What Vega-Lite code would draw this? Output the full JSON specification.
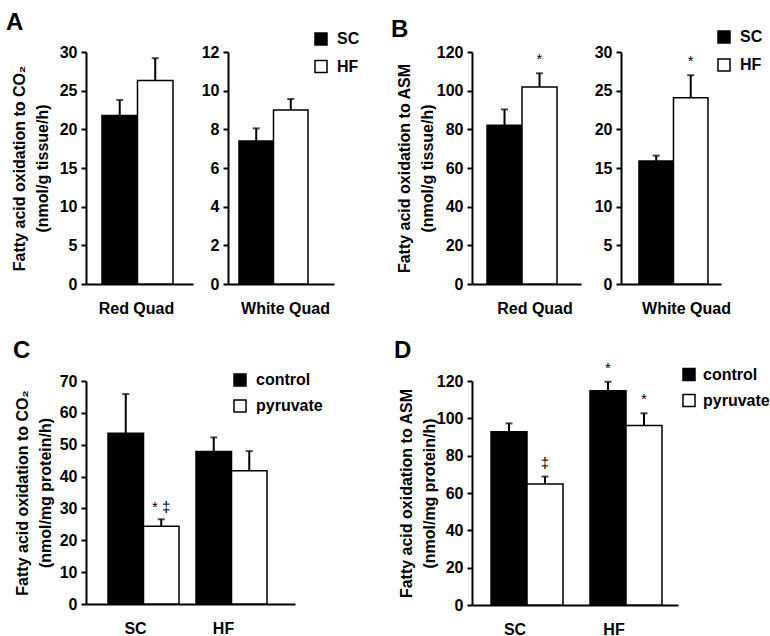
{
  "$schema": "https://vega.github.io/schema/vega-lite/v6.json",
  "padding": {"left": 5, "top": 11, "right": 0, "bottom": 0},
  "background": "white",
  "datasets": {
    "Ared": [
      {"group": "Red Quad", "series": "SC", "value": 21.8, "upper": 23.8, "sig": ""},
      {"group": "Red Quad", "series": "HF", "value": 26.3, "upper": 29.2, "sig": ""}
    ],
    "Awhite": [
      {"group": "White Quad", "series": "SC", "value": 7.4, "upper": 8.05, "sig": ""},
      {"group": "White Quad", "series": "HF", "value": 9.0, "upper": 9.57, "sig": ""}
    ],
    "Bred": [
      {"group": "Red Quad", "series": "SC", "value": 82.1, "upper": 90.3, "sig": ""},
      {"group": "Red Quad", "series": "HF", "value": 101.9, "upper": 109.0, "sig": "*"}
    ],
    "Bwhite": [
      {"group": "White Quad", "series": "SC", "value": 15.9, "upper": 16.6, "sig": ""},
      {"group": "White Quad", "series": "HF", "value": 24.1, "upper": 27.0, "sig": "*"}
    ],
    "C": [
      {"group": "SC", "series": "control", "value": 53.6, "upper": 65.9, "sig": ""},
      {"group": "SC", "series": "pyruvate", "value": 24.4, "upper": 26.6, "sig": "* ‡"},
      {"group": "HF", "series": "control", "value": 47.9, "upper": 52.3, "sig": ""},
      {"group": "HF", "series": "pyruvate", "value": 41.8, "upper": 48.0, "sig": ""}
    ],
    "D": [
      {"group": "SC", "series": "control", "value": 92.8, "upper": 97.3, "sig": ""},
      {"group": "SC", "series": "pyruvate", "value": 64.8, "upper": 68.8, "sig": "‡"},
      {"group": "HF", "series": "control", "value": 114.8, "upper": 119.6, "sig": "*"},
      {"group": "HF", "series": "pyruvate", "value": 96.1, "upper": 102.7, "sig": "*"}
    ]
  },
  "config": {
    "font": "Liberation Sans",
    "view": {"stroke": null},
    "axis": {"domainColor": "black", "domainWidth": 2, "tickColor": "black", "tickWidth": 2, "tickSize": 5, "labelFont": "Liberation Sans", "labelFontSize": 16, "labelFontWeight": "bold", "labelColor": "black", "labelPadding": 4, "titleFont": "Liberation Sans", "titleFontSize": 16, "titleFontWeight": "bold", "titleColor": "black", "grid": false, "labelOverlap": false},
    "axisX": {"ticks": false, "labelAngle": 0, "labelPadding": 16},
    "axisY": {"titlePadding": 6, "titleLineHeight": 23},
    "legend": {"orient": "none", "symbolType": "square", "symbolSize": 144, "symbolStrokeColor": "black", "symbolStrokeWidth": 1.5, "labelFont": "Liberation Sans", "labelFontSize": 16, "labelFontWeight": "bold", "labelColor": "black", "labelOffset": 8, "padding": 0, "rowPadding": 10},
    "title": {"font": "Liberation Sans", "fontSize": 24, "fontWeight": "bold", "color": "black", "anchor": "start", "frame": "bounds", "offset": 2}
  },
  "spacing": 22,
  "vconcat": [
    {
      "spacing": 30,
      "resolve": {"scale": {"x": "independent", "y": "independent", "xOffset": "independent", "color": "independent"}, "legend": {"color": "independent"}},
      "hconcat": [
        {
          "bounds": "flush",
          "spacing": 35,
          "resolve": {"scale": {"x": "independent", "y": "independent", "xOffset": "independent", "color": "independent"}, "legend": {"color": "independent"}},
          "hconcat": [
            {
              "data": {"name": "Ared"},
              "width": 107, "height": 232,
              "title": {"text": "A", "dx": -5, "offset": 2},
              "encoding": {
                "x": {"field": "group", "type": "nominal", "title": null, "scale": {"paddingInner": 0, "paddingOuter": 0.2535, "align": 0.444}, "axis": {"labelOffset": -1}},
                "xOffset": {"field": "series", "type": "nominal", "sort": ["SC", "HF"]},
                "y": {"field": "value", "type": "quantitative", "scale": {"domain": [0, 30]}, "axis": {"values": [0, 5, 10, 15, 20, 25, 30], "titleX": -59, "title": ["Fatty acid oxidation to CO₂", "(nmol/g tissue/h)"]}}
              },
              "layer": [
                {"mark": {"type": "bar", "stroke": "black", "strokeWidth": 1.5},
                 "encoding": {"color": {"field": "series", "type": "nominal", "scale": {"domain": ["SC", "HF"], "range": ["black", "white"]}, "legend": null}}},
                {"mark": {"type": "rule", "strokeWidth": 2, "color": "black"}, "encoding": {"y2": {"field": "upper"}}},
                {"mark": {"type": "tick", "thickness": 2, "size": 7, "color": "black"}, "encoding": {"y": {"field": "upper", "type": "quantitative", "axis": {"values": [0, 5, 10, 15, 20, 25, 30], "titleX": -59, "title": ["Fatty acid oxidation to CO₂", "(nmol/g tissue/h)"]}}}},
                {"mark": {"type": "text", "fontSize": 15, "baseline": "middle", "dy": -14, "color": "black"}, "encoding": {"y": {"field": "upper", "type": "quantitative", "axis": {"values": [0, 5, 10, 15, 20, 25, 30], "titleX": -59, "title": ["Fatty acid oxidation to CO₂", "(nmol/g tissue/h)"]}}, "text": {"field": "sig"}}}
              ]
            },
            {
              "data": {"name": "Awhite"},
              "width": 106, "height": 232,
              "encoding": {
                "x": {"field": "group", "type": "nominal", "title": null, "scale": {"paddingInner": 0, "paddingOuter": 0.268, "align": 0.297}, "axis": {"labelOffset": 12}},
                "xOffset": {"field": "series", "type": "nominal", "sort": ["SC", "HF"]},
                "y": {"field": "value", "type": "quantitative", "scale": {"domain": [0, 12]}, "axis": {"values": [0, 2, 4, 6, 8, 10, 12], "title": null}}
              },
              "layer": [
                {"mark": {"type": "bar", "stroke": "black", "strokeWidth": 1.5},
                 "encoding": {"color": {"field": "series", "type": "nominal", "scale": {"domain": ["SC", "HF"], "range": ["black", "white"]}, "legend": {"title": null, "orient": "none", "legendX": 85, "legendY": -21, "rowPadding": 9.5}}}},
                {"mark": {"type": "rule", "strokeWidth": 2, "color": "black"}, "encoding": {"y2": {"field": "upper"}}},
                {"mark": {"type": "tick", "thickness": 2, "size": 7, "color": "black"}, "encoding": {"y": {"field": "upper", "type": "quantitative", "axis": {"values": [0, 2, 4, 6, 8, 10, 12], "title": null}}}},
                {"mark": {"type": "text", "fontSize": 15, "baseline": "middle", "dy": -14, "color": "black"}, "encoding": {"y": {"field": "upper", "type": "quantitative", "axis": {"values": [0, 2, 4, 6, 8, 10, 12], "title": null}}, "text": {"field": "sig"}}}
              ]
            }
          ]
        },
        {
          "bounds": "flush",
          "spacing": 40,
          "resolve": {"scale": {"x": "independent", "y": "independent", "xOffset": "independent", "color": "independent"}, "legend": {"color": "independent"}},
          "hconcat": [
            {
              "data": {"name": "Bred"},
              "width": 109, "height": 232,
              "title": {"text": "B", "dx": -5, "offset": 2},
              "encoding": {
                "x": {"field": "group", "type": "nominal", "title": null, "scale": {"paddingInner": 0, "paddingOuter": 0.2786, "align": 0.385}, "axis": {"labelOffset": 13}},
                "xOffset": {"field": "series", "type": "nominal", "sort": ["SC", "HF"]},
                "y": {"field": "value", "type": "quantitative", "scale": {"domain": [0, 120]}, "axis": {"values": [0, 20, 40, 60, 80, 100, 120], "titleX": -60, "title": ["Fatty acid oxidation to  ASM", "(nmol/g tissue/h)"]}}
              },
              "layer": [
                {"mark": {"type": "bar", "stroke": "black", "strokeWidth": 1.5},
                 "encoding": {"color": {"field": "series", "type": "nominal", "scale": {"domain": ["SC", "HF"], "range": ["black", "white"]}, "legend": null}}},
                {"mark": {"type": "rule", "strokeWidth": 2, "color": "black"}, "encoding": {"y2": {"field": "upper"}}},
                {"mark": {"type": "tick", "thickness": 2, "size": 7, "color": "black"}, "encoding": {"y": {"field": "upper", "type": "quantitative", "axis": {"values": [0, 20, 40, 60, 80, 100, 120], "titleX": -60, "title": ["Fatty acid oxidation to  ASM", "(nmol/g tissue/h)"]}}}},
                {"mark": {"type": "text", "fontSize": 15, "baseline": "middle", "dy": -14, "color": "black"}, "encoding": {"y": {"field": "upper", "type": "quantitative", "axis": {"values": [0, 20, 40, 60, 80, 100, 120], "titleX": -60, "title": ["Fatty acid oxidation to  ASM", "(nmol/g tissue/h)"]}}, "text": {"field": "sig"}}}
              ]
            },
            {
              "data": {"name": "Bwhite"},
              "width": 100, "height": 232,
              "encoding": {
                "x": {"field": "group", "type": "nominal", "title": null, "scale": {"paddingInner": 0, "paddingOuter": 0.2246, "align": 0.58}, "axis": {"labelOffset": 13}},
                "xOffset": {"field": "series", "type": "nominal", "sort": ["SC", "HF"]},
                "y": {"field": "value", "type": "quantitative", "scale": {"domain": [0, 30]}, "axis": {"values": [0, 5, 10, 15, 20, 25, 30], "title": null}}
              },
              "layer": [
                {"mark": {"type": "bar", "stroke": "black", "strokeWidth": 1.5},
                 "encoding": {"color": {"field": "series", "type": "nominal", "scale": {"domain": ["SC", "HF"], "range": ["black", "white"]}, "legend": {"title": null, "orient": "none", "legendX": 95, "legendY": -23, "rowPadding": 10}}}},
                {"mark": {"type": "rule", "strokeWidth": 2, "color": "black"}, "encoding": {"y2": {"field": "upper"}}},
                {"mark": {"type": "tick", "thickness": 2, "size": 7, "color": "black"}, "encoding": {"y": {"field": "upper", "type": "quantitative", "axis": {"values": [0, 5, 10, 15, 20, 25, 30], "title": null}}}},
                {"mark": {"type": "text", "fontSize": 15, "baseline": "middle", "dy": -14, "color": "black"}, "encoding": {"y": {"field": "upper", "type": "quantitative", "axis": {"values": [0, 5, 10, 15, 20, 25, 30], "title": null}}, "text": {"field": "sig"}}}
              ]
            }
          ]
        }
      ]
    },
    {
      "bounds": "flush",
      "spacing": 177,
      "resolve": {"scale": {"x": "independent", "y": "independent", "xOffset": "independent", "color": "independent"}, "legend": {"color": "independent"}},
      "hconcat": [
        {
          "data": {"name": "C"},
          "width": 209, "height": 223,
          "title": {"text": "C", "dx": -1, "offset": 9},
          "encoding": {
            "x": {"field": "group", "type": "nominal", "title": null, "sort": ["SC", "HF"], "scale": {"paddingInner": 0.193, "paddingOuter": 0.284, "align": 0.44}, "axis": {"labelOffset": -8}},
            "xOffset": {"field": "series", "type": "nominal", "sort": ["control", "pyruvate"]},
            "y": {"field": "value", "type": "quantitative", "scale": {"domain": [0, 70]}, "axis": {"values": [0, 10, 20, 30, 40, 50, 60, 70], "titleX": -56, "title": ["Fatty acid oxidation to CO₂", "(nmol/mg protein/h)"]}}
          },
          "layer": [
            {"mark": {"type": "bar", "stroke": "black", "strokeWidth": 1.5},
             "encoding": {"color": {"field": "series", "type": "nominal", "scale": {"domain": ["control", "pyruvate"], "range": ["black", "white"]}, "legend": {"title": null, "orient": "none", "legendX": 146, "legendY": -9, "rowPadding": 8}}}},
            {"mark": {"type": "rule", "strokeWidth": 2, "color": "black"}, "encoding": {"y2": {"field": "upper"}}},
            {"mark": {"type": "tick", "thickness": 2, "size": 7, "color": "black"}, "encoding": {"y": {"field": "upper", "type": "quantitative", "axis": {"values": [0, 10, 20, 30, 40, 50, 60, 70], "titleX": -56, "title": ["Fatty acid oxidation to CO₂", "(nmol/mg protein/h)"]}}}},
            {"mark": {"type": "text", "fontSize": 15, "baseline": "middle", "dy": -12, "color": "black"}, "encoding": {"y": {"field": "upper", "type": "quantitative", "axis": {"values": [0, 10, 20, 30, 40, 50, 60, 70], "titleX": -56, "title": ["Fatty acid oxidation to CO₂", "(nmol/mg protein/h)"]}}, "text": {"field": "sig"}}}
          ]
        },
        {
          "data": {"name": "D"},
          "width": 206, "height": 224,
          "title": {"text": "D", "dx": -4, "offset": -2},
          "encoding": {
            "x": {"field": "group", "type": "nominal", "title": null, "sort": ["SC", "HF"], "scale": {"paddingInner": 0.2727, "paddingOuter": 0.177, "align": 0.543}, "axis": {"labelOffset": -12}},
            "xOffset": {"field": "series", "type": "nominal", "sort": ["control", "pyruvate"]},
            "y": {"field": "value", "type": "quantitative", "scale": {"domain": [0, 120]}, "axis": {"values": [0, 20, 40, 60, 80, 100, 120], "titleX": -58, "title": ["Fatty acid oxidation to  ASM", "(nmol/mg protein/h)"]}}
          },
          "layer": [
            {"mark": {"type": "bar", "stroke": "black", "strokeWidth": 1.5},
             "encoding": {"color": {"field": "series", "type": "nominal", "scale": {"domain": ["control", "pyruvate"], "range": ["black", "white"]}, "legend": {"title": null, "orient": "none", "legendX": 209, "legendY": -14.5, "rowPadding": 8, "labelOffset": 6}}}},
            {"mark": {"type": "rule", "strokeWidth": 2, "color": "black"}, "encoding": {"y2": {"field": "upper"}}},
            {"mark": {"type": "tick", "thickness": 2, "size": 7, "color": "black"}, "encoding": {"y": {"field": "upper", "type": "quantitative", "axis": {"values": [0, 20, 40, 60, 80, 100, 120], "titleX": -58, "title": ["Fatty acid oxidation to  ASM", "(nmol/mg protein/h)"]}}}},
            {"mark": {"type": "text", "fontSize": 15, "baseline": "middle", "dy": -14, "color": "black"}, "encoding": {"y": {"field": "upper", "type": "quantitative", "axis": {"values": [0, 20, 40, 60, 80, 100, 120], "titleX": -58, "title": ["Fatty acid oxidation to  ASM", "(nmol/mg protein/h)"]}}, "text": {"field": "sig"}}}
          ]
        }
      ]
    }
  ]
}
